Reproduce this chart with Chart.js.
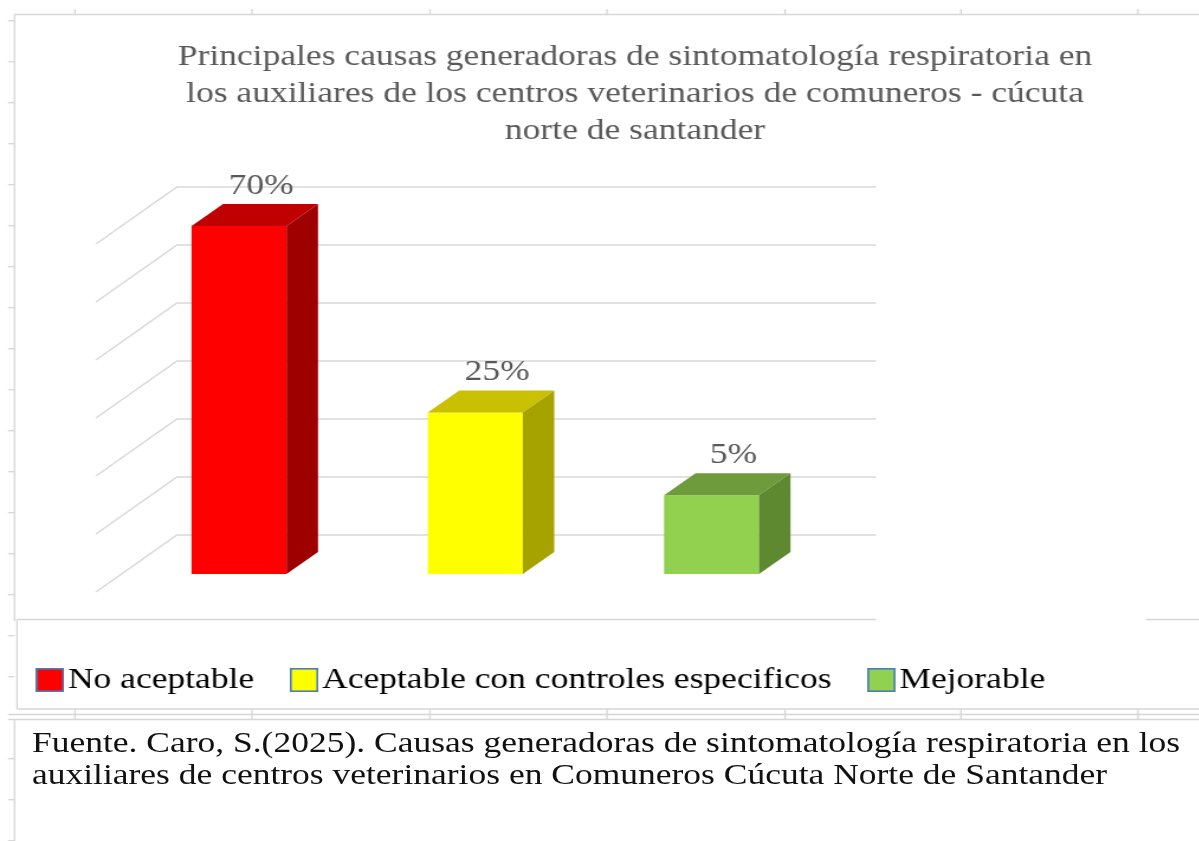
<!DOCTYPE html>
<html><head><meta charset="utf-8">
<script src="https://cdn.jsdelivr.net/npm/chart.js@4.4.1/dist/chart.umd.min.js"></script>
<style>
html,body{margin:0;padding:0;background:#fff;overflow:hidden;width:1199px;height:841px;}
#wrap{position:absolute;left:0;top:0;width:1080px;height:841px;transform:scaleX(1.183);transform-origin:0 0;}
#c{position:absolute;left:0;top:0;}
#cap{position:absolute;left:27px;top:726px;font-family:'Liberation Serif','Times New Roman',serif;font-size:30px;line-height:31.5px;color:#111;white-space:nowrap;}
</style></head><body>
<div id="wrap"><canvas id="c" width="1080" height="841"></canvas>
<div id="cap">Fuente. Caro, S.(2025). Causas generadoras de sintomatología respiratoria en los<br>auxiliares de centros veterinarios en Comuneros Cúcuta Norte de Santander</div></div>
<script>
// ---- data ----
const titleLines = [
  'Principales causas generadoras de sintomatología respiratoria en',
  'los auxiliares de los centros veterinarios de comuneros - cúcuta',
  'norte de santander'
];
const categories = ['No aceptable', 'Aceptable con controles especificos', 'Mejorable'];
const values = [70, 25, 5];
const valueSuffix = '%';

// ---- styles ----
const frontColors = ['#FF0000', '#FFFF00', '#92D050'];
const topColors = ['#C00000', '#C8C000', '#6E9B3B'];
const sideColors = ['#9E0000', '#A6A300', '#5E8931'];
const swatchBorder = '#4A7EBB';
const gridColor = '#d9d9d9';
const sheetColor = '#d6d6d6';

// ---- geometry (reference image is stretched horizontally) ----
const S = 1.183;
const X = v => v / S;
const AXIS_MIN = -14, AXIS_MAX = 70, GRID_STEP = 14;
const DX = X(31.5), DY = -22;     // bar depth
const WALL = 39;                   // back wall offset
const LABEL_DX = X(22), LABEL_DY = 32;
const SERIF = "'Liberation Serif', 'Times New Roman', serif";

function makeSwatch(color) {
  const c = document.createElement('canvas');
  c.width = 24; c.height = 24;
  const g = c.getContext('2d');
  g.fillStyle = color; g.fillRect(0, 0, 24, 24);
  g.strokeStyle = swatchBorder; g.lineWidth = 1.6;
  g.strokeRect(0.8, 0.8, 22.4, 22.4);
  return c;
}
const swatches = frontColors.map(makeSwatch);

const sheetPlugin = {
  id: 'sheet',
  beforeDraw(chart) {
    const ctx = chart.ctx;
    ctx.save();
    ctx.strokeStyle = sheetColor;
    ctx.lineWidth = 1.3;
    const line = (x1, y1, x2, y2) => { ctx.beginPath(); ctx.moveTo(x1, y1); ctx.lineTo(x2, y2); ctx.stroke(); };
    const W = chart.width;
    line(X(14), 14.5, W, 14.5);
    line(X(14.5), 14.5, X(14.5), 621);
    line(X(17), 619.5, X(17), 709);
    line(X(17), 619.5, X(876), 619.5);
    line(X(1146), 619.5, W, 619.5);
    line(X(17), 709, W, 709);
    line(X(8), 714.5, W, 714.5);
    line(X(8), 719.5, W, 719.5);
    line(X(14.5), 719.5, X(14.5), 841);
    const cols = [75, 252, 430, 607, 785, 961, 1138];
    cols.forEach(c => { line(X(c), 9, X(c), 14.5); line(X(c), 709, X(c), 720); });
    for (let y = 20.7; y < 841; y += 41) {
      if (y > 700 && y < 725) continue;
      line(X(8), y, X(14.5), y);
    }
    ctx.restore();
  }
};

const wallPlugin = {
  id: 'wall',
  beforeDatasetsDraw(chart) {
    const ctx = chart.ctx, ys = chart.scales.y, area = chart.chartArea;
    ctx.save();
    ctx.strokeStyle = gridColor;
    ctx.lineWidth = 1.6;
    ys.ticks.forEach(t => {
      const f = ys.getPixelForValue(t.value);
      const b = f - WALL;
      ctx.beginPath();
      ctx.moveTo(area.left - X(25), f + 18);
      ctx.lineTo(area.left + X(56), b);
      ctx.lineTo(area.right + X(46.5), b);
      ctx.stroke();
    });
    ctx.restore();
  }
};

const bar3dPlugin = {
  id: 'bar3d',
  afterDatasetsDraw(chart) {
    const ctx = chart.ctx;
    const meta = chart.getDatasetMeta(0);
    ctx.save();
    meta.data.forEach((bar, i) => {
      const p = bar.getProps(['x', 'y', 'base', 'width'], true);
      const l = p.x - p.width / 2, r = p.x + p.width / 2;
      ctx.fillStyle = topColors[i];
      ctx.beginPath();
      ctx.moveTo(l, p.y); ctx.lineTo(r, p.y); ctx.lineTo(r + DX, p.y + DY); ctx.lineTo(l + DX, p.y + DY);
      ctx.closePath(); ctx.fill();
      ctx.fillStyle = sideColors[i];
      ctx.beginPath();
      ctx.moveTo(r, p.y); ctx.lineTo(r + DX, p.y + DY); ctx.lineTo(r + DX, p.base + DY); ctx.lineTo(r, p.base);
      ctx.closePath(); ctx.fill();
      ctx.fillStyle = '#595959';
      ctx.font = '30px ' + SERIF;
      ctx.textAlign = 'center';
      ctx.textBaseline = 'alphabetic';
      ctx.fillText(values[i] + valueSuffix, p.x + LABEL_DX, p.y - LABEL_DY);
    });
    ctx.restore();
  }
};

const hidden = { ticks: { display: false }, grid: { display: false }, border: { display: false } };

new Chart(document.getElementById('c'), {
  type: 'bar',
  data: {
    labels: categories,
    datasets: [{
      data: values,
      backgroundColor: frontColors,
      borderWidth: 0,
      base: AXIS_MIN,
      categoryPercentage: 1,
      barPercentage: 0.402
    }]
  },
  options: {
    responsive: false,
    animation: false,
    devicePixelRatio: 1,
    layout: { padding: { left: 0, right: 6.4, top: 0, bottom: 136 } },
    scales: {
      x: Object.assign({ type: 'category', afterFit(s) { s.height = 49; } }, hidden),
      y: Object.assign({}, hidden, {
        type: 'linear', min: AXIS_MIN, max: AXIS_MAX,
        ticks: { display: false, stepSize: GRID_STEP },
        afterFit(s) { s.width = 102.2; }
      }),
      yR: Object.assign({}, hidden, {
        type: 'linear', position: 'right',
        afterFit(s) { s.width = 372.3; }
      })
    },
    plugins: {
      tooltip: { enabled: false },
      title: {
        display: true,
        text: titleLines,
        color: '#595959',
        font: { family: SERIF, size: 30, weight: 'normal', lineHeight: 37 / 30 },
        padding: { top: 39, bottom: 76 }
      },
      legend: {
        display: true,
        position: 'bottom',
        align: 'start',
        labels: {
          usePointStyle: true,
          pointStyleWidth: 0.4,
          padding: 42,
          color: '#000',
          font: { family: SERIF, size: 30 },
          generateLabels() {
            return categories.map((t, i) => ({
              text: t, fillStyle: frontColors[i], strokeStyle: swatchBorder, lineWidth: 1,
              pointStyle: swatches[i], hidden: false, index: i, fontColor: '#000'
            }));
          }
        }
      }
    }
  },
  plugins: [sheetPlugin, wallPlugin, bar3dPlugin]
});
</script>
</body></html>
